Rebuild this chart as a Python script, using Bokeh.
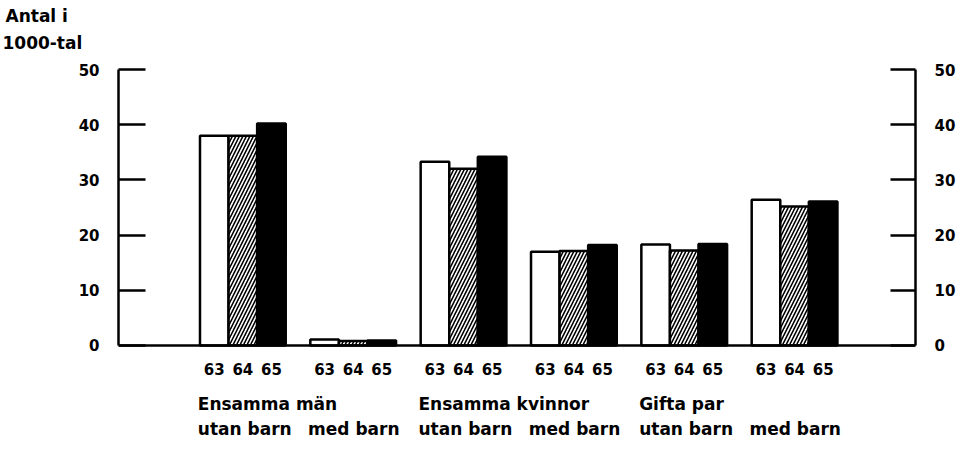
import numpy as np
from bokeh.plotting import figure
from bokeh.models import LinearAxis, FixedTicker, Span, Range1d, ColumnDataSource, Title
from bokeh.core.properties import value
from bokeh.embed import file_html
from bokeh.resources import INLINE

# ---- data ----
households = ["Ensamma män", "Ensamma män", "Ensamma kvinnor", "Ensamma kvinnor", "Gifta par", "Gifta par"]
children = ["utan barn", "med barn", "utan barn", "med barn", "utan barn", "med barn"]
years = ["63", "64", "65"]
v63 = [38.0, 1.1, 33.3, 17.0, 18.3, 26.4]
v64 = [38.0, 0.8, 32.0, 17.1, 17.2, 25.2]
v65 = [40.2, 0.9, 34.2, 18.2, 18.4, 26.1]
y_ticks = [0, 10, 20, 30, 40, 50]
title_lines = ["Antal i", "1000-tal"]

FONT = "DejaVu Sans"
BW = 0.259
offsets = [-BW, 0.0, BW]
idx = np.arange(len(children))

p = figure(width=958, height=438, output_backend="svg", toolbar_location=None,
           x_range=Range1d(-1.127, 6.096), y_range=Range1d(-16.85, 52.72),
           x_axis_location=None, y_axis_location="left",
           min_border_left=118, min_border_right=39, min_border_top=0, min_border_bottom=0)
p.grid.visible = False
p.outline_line_color = None

# title lines, top left (later-added titles go further up)
p.add_layout(Title(text=title_lines[1], align="left", offset=-116, standoff=4,
                   text_font=FONT, text_font_size="17px", text_font_style="bold",
                   text_color="black"), "above")
p.add_layout(Title(text=title_lines[0], align="left", offset=-113, standoff=6,
                   text_font=FONT, text_font_size="17px", text_font_style="bold",
                   text_color="black"), "above")


def style_axis(ax, tick_in, standoff):
    ax.ticker = FixedTicker(ticks=y_ticks)
    ax.bounds = (min(y_ticks), max(y_ticks))
    ax.major_tick_in = tick_in
    ax.major_tick_out = 0
    ax.minor_tick_line_color = None
    ax.axis_line_width = 2.5
    ax.axis_line_color = "black"
    ax.major_tick_line_width = 2.5
    ax.major_tick_line_color = "black"
    ax.major_label_standoff = standoff
    ax.major_label_text_font = FONT
    ax.major_label_text_font_size = "15px"
    ax.major_label_text_font_style = "bold"
    ax.major_label_text_color = "black"


style_axis(p.yaxis[0], 27, 19)
right = LinearAxis()
style_axis(right, 25, 19)
p.add_layout(right, "right")

# bars
series = [v63, v64, v65]
for k, vals in enumerate(series):
    src = ColumnDataSource(dict(x=idx + offsets[k], top=vals))
    if k == 0:
        p.vbar(x="x", top="top", bottom=0, width=BW, source=src,
               fill_color="white", line_color="black", line_width=2.5)
    elif k == 1:
        p.vbar(x="x", top="top", bottom=0, width=BW, source=src,
               fill_color="white", line_color="black", line_width=2.5,
               hatch_pattern="/", hatch_color="black", hatch_scale=7, hatch_weight=1.6)
    else:
        p.vbar(x="x", top="top", bottom=0, width=BW, source=src,
               fill_color="black", line_color="black", line_width=2.5)

p.add_layout(Span(location=0, dimension="width", line_color="black", line_width=2.5))

# year labels under each bar
yx, yt = [], []
for i in idx:
    for k, yr in enumerate(years):
        yx.append(i + offsets[k])
        yt.append(yr)
p.text(x=yx, y=[-4.17] * len(yx), text=yt, text_align="center", text_baseline="middle",
       text_font=value(FONT), text_font_size="15px", text_font_style="bold", text_color="black")

# household labels (one per pair of groups)
hx, ht = [], []
for i in idx:
    if i == 0 or households[i] != households[i - 1]:
        hx.append(i - 1.5 * BW - 0.02)
        ht.append(households[i])
p.text(x=hx, y=[-10.69] * len(hx), text=ht, text_align="left", text_baseline="middle",
       text_font=value(FONT), text_font_size="17px", text_font_style="bold", text_color="black")

# children labels
p.text(x=list(idx - 1.5 * BW - 0.02), y=[-15.04] * len(idx), text=children, text_align="left",
       text_baseline="middle", text_font=value(FONT), text_font_size="17px",
       text_font_style="bold", text_color="black")

open("out.html", "w").write(file_html(p, INLINE))
